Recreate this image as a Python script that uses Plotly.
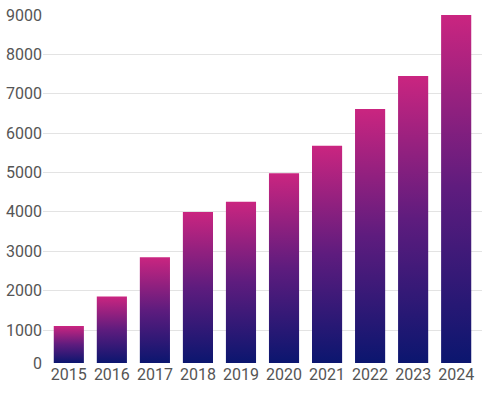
import plotly.graph_objects as go

years = ["2015", "2016", "2017", "2018", "2019", "2020", "2021", "2022", "2023", "2024"]
values = [1100, 1850, 2850, 4000, 4260, 4980, 5680, 6610, 7450, 9000]
y_tick_vals = [162, 1000, 2000, 3000, 4000, 5000, 6000, 7000, 8000, 9000]
y_tick_text = ["0", "1000", "2000", "3000", "4000", "5000", "6000", "7000", "8000", "9000"]

Y_MIN = 162
Y_MAX = 9000
HALF_W = 0.35
colorscale = [[0, "#0b166f"], [0.5, "#5e1c7e"], [1, "#ca2580"]]

fig = go.Figure()
for i, v in enumerate(values):
    x0, x1 = i - HALF_W, i + HALF_W
    fig.add_trace(go.Scatter(
        x=[x0, x0, x1, x1, x0],
        y=[Y_MIN, v, v, Y_MIN, Y_MIN],
        mode="lines",
        line=dict(width=0),
        fill="toself",
        fillgradient=dict(type="vertical", colorscale=colorscale, start=Y_MIN, stop=v),
        hoverinfo="skip",
        showlegend=False,
    ))

fig.update_layout(
    width=487, height=393,
    margin=dict(l=43, r=5, t=15, b=30),
    paper_bgcolor="white", plot_bgcolor="white",
    font=dict(family="Roboto", size=16, color="#555555"),
    showlegend=False,
    hovermode=False,
    xaxis=dict(
        range=[-0.6, 9.6],
        tickmode="array", tickvals=list(range(len(years))), ticktext=years,
        showgrid=False, zeroline=False, showline=False, ticks="",
        automargin=False, fixedrange=True,
    ),
    yaxis=dict(
        range=[Y_MIN, Y_MAX],
        tickmode="array", tickvals=y_tick_vals, ticktext=y_tick_text,
        showgrid=True, gridcolor="#e3e3e3", gridwidth=1,
        zeroline=False, showline=False, ticks="",
        automargin=False, fixedrange=True,
    ),
)

fig.write_html(
    "out.html",
    config={"displayModeBar": False},
    post_script="document.body.style.margin='0';document.body.style.overflow='hidden';",
)
